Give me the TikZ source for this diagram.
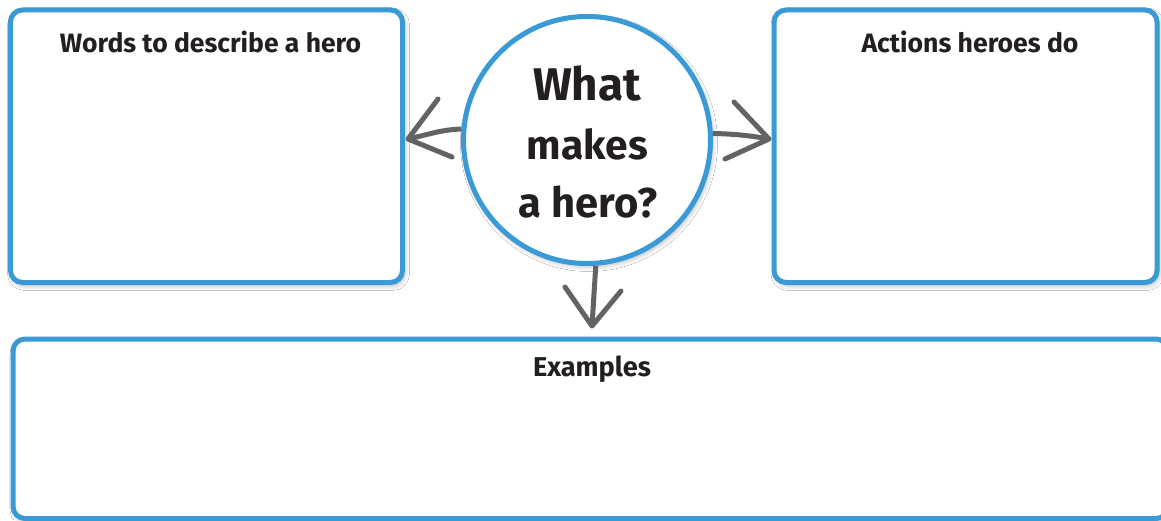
\documentclass[tikz,border=0pt]{standalone}
\usepackage{fontspec}
\setmainfont{Fira Sans}
\usepackage{graphicx}
\usetikzlibrary{shadows.blur}
\definecolor{heroblue}{HTML}{3A9AD6}
\definecolor{arrowgray}{HTML}{636363}
\definecolor{ink}{HTML}{231F20}
\begin{document}
\begin{tikzpicture}[x=1pt,y=1pt,
  softshadow/.style={blur shadow={shadow xshift=2pt, shadow yshift=-3pt, shadow blur radius=5pt, shadow opacity=30}},
  panel/.style={draw=heroblue, line width=5pt, rounded corners=12pt, fill=white, inner sep=0pt, softshadow},
  hubstyle/.style={circle, draw=heroblue, line width=5pt, fill=white, minimum size=247pt, inner sep=0pt, softshadow},
  heading/.style={anchor=base, inner sep=0pt, text=ink, font=\bfseries},
  arrowline/.style={draw=arrowgray, line width=5pt, line cap=round, line join=round},
  shaftline/.style={draw=arrowgray, line width=5pt, line cap=butt},
]
\useasboundingbox (0,0) rectangle (1161,520);
\fill[white] (0,0) rectangle (1161,520);

% panels
\node[panel, minimum width=392pt, minimum height=272.5pt] (words) at (206.5,373.75) {};
\node[panel, minimum width=383pt, minimum height=272.5pt] (actions) at (965.5,373.75) {};
\node[panel, minimum width=1155pt, minimum height=179.5pt] (examples) at (590.5,91.25) {};

\node[heading] (wordsT) at (210.5,467) {\resizebox{301pt}{!}{Words to describe a hero}};
\node[heading] (actionsT) at (970,467) {\resizebox{217pt}{!}{Actions heroes do}};
\node[heading] (examplesT) at (592,144) {\resizebox{118pt}{!}{Examples}};

% hub
\node[hubstyle] (hub) at (587,380) {};
\node[heading] (q1) at (587,419) {\resizebox{108pt}{!}{What}};
\node[heading] (q2) at (587.5,360) {\resizebox{121pt}{!}{makes}};
\node[heading] (q3) at (588,302) {\resizebox{138pt}{!}{a hero?}};

% arrows
\coordinate (tipL) at (408,381);
\coordinate (tipR) at (769,381);
\coordinate (tipD) at (592,194);
\draw[shaftline] (hub.175) to[out=182,in=12] (tipL);
\draw[arrowline] ([shift={(30,40)}]tipL) -- (tipL) -- ([shift={(44,-18)}]tipL);
\draw[shaftline] (hub.3) to[out=-2,in=170] (tipR);
\draw[arrowline] ([shift={(-35,37)}]tipR) -- (tipR) -- ([shift={(-44,-20)}]tipR);
\draw[shaftline] (hub.274.5) -- (tipD);
\draw[arrowline] ([shift={(-27,39)}]tipD) -- (tipD) -- ([shift={(29,35)}]tipD);
\end{tikzpicture}
\end{document}
